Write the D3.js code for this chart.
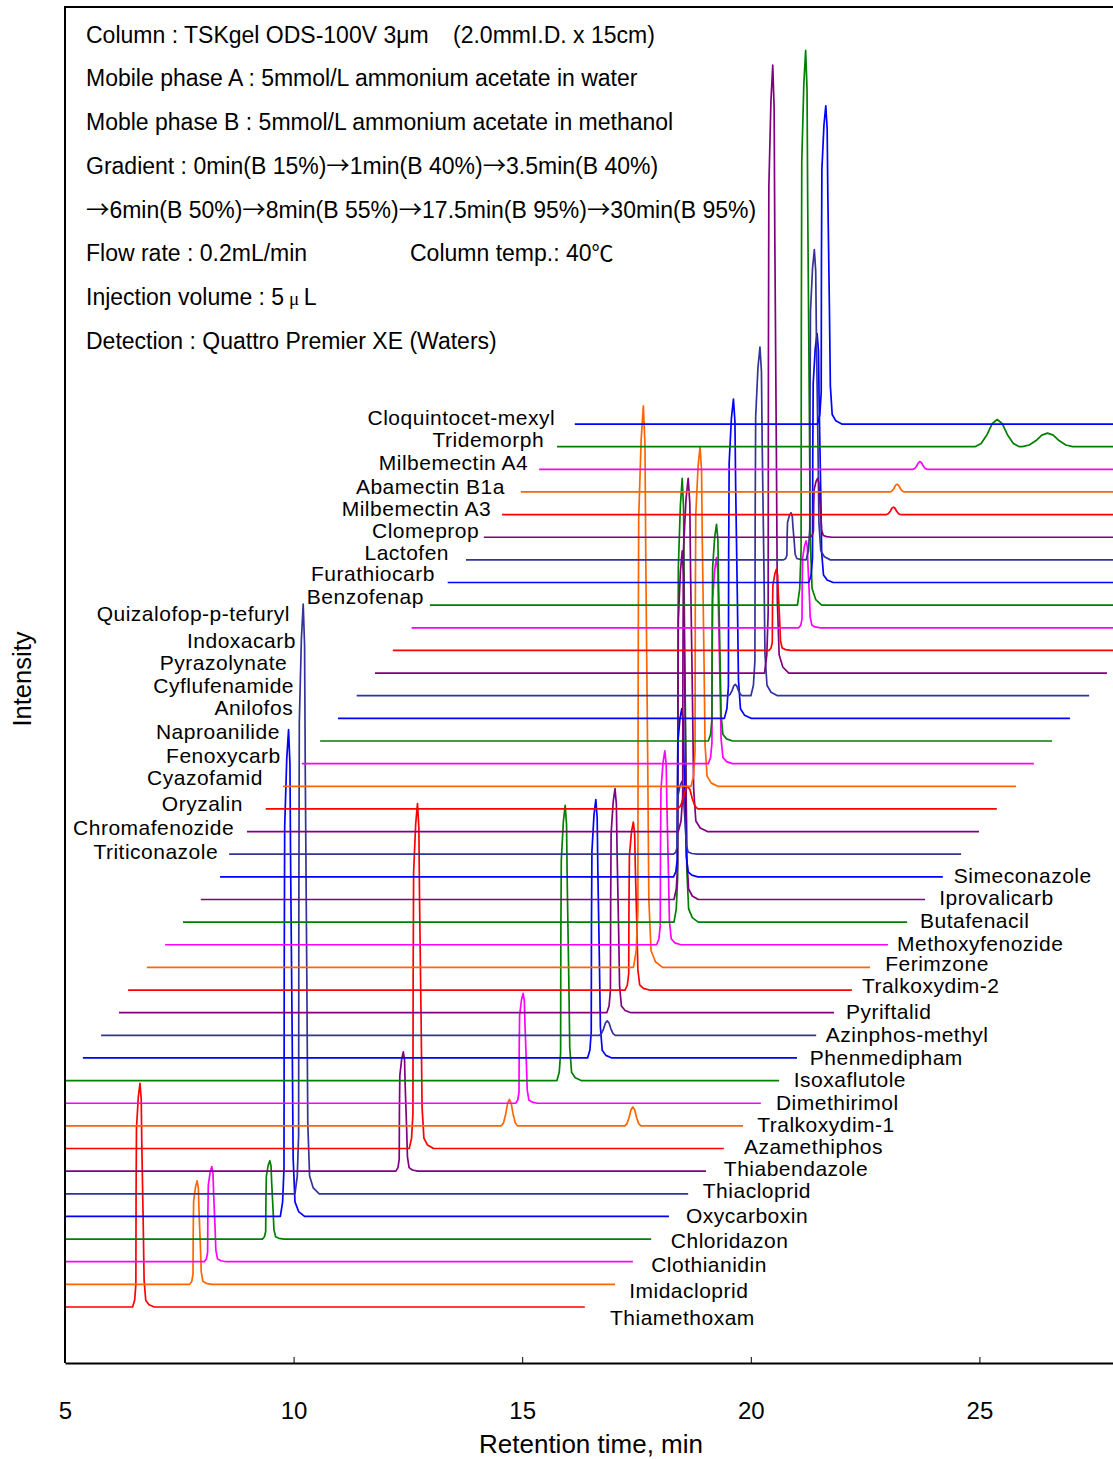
<!DOCTYPE html>
<html><head><meta charset="utf-8">
<script src="https://cdn.jsdelivr.net/npm/d3@7"></script>
<style>
body{margin:0;background:#fff}
svg{display:block}
text{font-family:"Liberation Sans",Arial,sans-serif;fill:#000}
</style></head>
<body><svg id="chart" width="1113" height="1459"></svg>
<script>
// ---------------- data ----------------
const compounds = ["Thiamethoxam","Imidacloprid","Clothianidin","Chloridazon","Oxycarboxin","Thiacloprid","Thiabendazole","Azamethiphos","Tralkoxydim-1","Dimethirimol","Isoxaflutole","Phenmedipham","Azinphos-methyl","Pyriftalid","Tralkoxydim-2","Ferimzone","Methoxyfenozide","Butafenacil","Iprovalicarb","Simeconazole","Triticonazole","Chromafenozide","Oryzalin","Cyazofamid","Fenoxycarb","Naproanilide","Anilofos","Cyflufenamide","Pyrazolynate","Indoxacarb","Quizalofop-p-tefuryl","Benzofenap","Furathiocarb","Lactofen","Clomeprop","Milbemectin A3","Abamectin B1a","Milbemectin A4","Tridemorph","Cloquintocet-mexyl"];
// acquisition window of each (offset) trace, min
const traceStart = [5,5,5,5,5,5,5,5,5,5,5,5.39,5.79,6.18,6.38,6.79,7.19,7.58,7.97,8.39,8.59,8.98,9.39,9.77,10.18,10.58,10.97,11.38,11.78,12.17,12.58,12.98,13.37,13.77,14.16,14.56,14.97,15.37,15.76,16.15];
const traceEnd = [16.37,17.03,17.42,17.82,18.21,18.63,19.02,19.41,19.83,20.22,20.62,21.01,21.43,21.82,22.21,22.61,23.0,23.42,23.81,24.2,24.6,24.99,25.38,25.8,26.19,26.59,26.98,27.4,27.79,28.2,28.6,29.0,29.4,29.8,30,30,30,30,30,30];
// peaks per trace: [retention time (min), height (trace-offset units), half width (min), shape 0=sharp 1=round]
const peaks = [
 [[6.64,9.88,0.09,0]],
 [[7.89,4.57,0.09,0]],
 [[8.21,4.2,0.09,0]],
 [[9.48,3.46,0.09,0]],
 [[9.89,21.5,0.1,0]],
 [[10.21,26.05,0.1,0]],
 [[12.40,5.27,0.09,0]],
 [[12.71,15.24,0.1,0]],
 [[14.72,1.17,0.08,1],[17.42,0.84,0.08,1]],
 [[15.02,4.85,0.09,0]],
 [[15.94,12.16,0.1,0]],
 [[16.61,11.41,0.1,0]],
 [[16.86,0.64,0.08,1]],
 [[17.03,9.9,0.1,0]],
 [[17.43,7.42,0.1,0]],
 [[17.65,24.8,0.12,0]],
 [[18.12,8.56,0.1,0]],
 [[18.50,19.6,0.1,0]],
 [[18.50,15.4,0.1,0]],
 [[18.49,7.43,0.1,0]],
 [[18.49,3.2,0.1,0]],
 [[18.63,15.6,0.12,0]],
 [[18.62,1.0,0.1,1]],
 [[18.89,15.0,0.11,0]],
 [[19.25,9.1,0.1,0]],
 [[19.25,9.57,0.1,0]],
 [[19.62,14.1,0.11,0]],
 [[19.66,0.5,0.07,1],[20.20,15.4,0.11,0]],
 [[20.48,26.85,0.1,0]],
 [[20.56,3.58,0.09,0]],
 [[21.21,3.84,0.09,0]],
 [[21.20,24.5,0.1,0]],
 [[21.45,11.0,0.1,0]],
 [[20.88,2.08,0.09,0],[21.39,13.7,0.1,0]],
 [[21.46,2.6,0.09,0]],
 [[23.12,0.33,0.07,1]],
 [[23.20,0.34,0.07,1]],
 [[23.70,0.34,0.07,1]],
 [[25.39,1.2,0.22,1],[26.49,0.6,0.25,1]],
 [[21.64,14.05,0.1,0]]
];
const xTicks = [5,10,15,20,25];
// label anchors (time, trace level); first 20 left-aligned, rest right-aligned
const labelTime = [16.92,17.34,17.82,18.25,18.58,18.95,19.41,19.85,20.14,20.55,20.94,21.29,21.64,22.08,22.43,22.94,23.20,23.70,24.12,24.44,8.35,8.70,8.89,9.33,9.72,9.70,9.99,10.01,9.86,10.05,9.92,12.85,13.09,13.40,14.06,14.32,14.62,15.13,15.48,15.72];
const labelLevel = [-0.44,0.75,1.90,2.92,4.06,5.17,6.14,7.11,8.08,9.05,10.03,11.04,12.06,13.07,14.22,15.19,16.08,17.09,18.07,19.04,20.14,21.16,22.22,23.37,24.38,25.44,26.50,27.47,28.49,29.46,30.65,31.40,32.38,33.35,34.32,35.25,36.26,37.32,38.30,39.27];
const headerLines = [
 ["Column : TSKgel ODS-100V 3μm", "(2.0mmI.D. x 15cm)"],
 ["Mobile phase A : 5mmol/L ammonium acetate in water"],
 ["Moble phase B : 5mmol/L ammonium acetate in methanol"],
 ["Gradient : 0min(B 15%)→1min(B 40%)→3.5min(B 40%)"],
 ["→6min(B 50%)→8min(B 55%)→17.5min(B 95%)→30min(B 95%)"],
 ["Flow rate : 0.2mL/min", "Column temp.: 40℃"],
 ["Injection volume : 5μL"],
 ["Detection : Quattro Premier XE (Waters)"]
];

// ---------------- styles ----------------
const palette = {red:"#ff0000", orange:"#ff6600", magenta:"#ff00ff", green:"#008000", blue:"#0000ff", slate:"#333399", purple:"#800080"};
const traceColorKeys = ["red","orange","magenta","green","blue","slate","purple","red","orange","magenta","green","blue","slate","purple","red","orange","magenta","green","purple","blue","slate","purple","red","orange","magenta","green","blue","slate","purple","red","magenta","green","blue","slate","purple","red","orange","magenta","green","blue"];
// peak shape templates: [offset in half-widths, fraction of height]
const sharpProfile = [[-1.8,0],[-1.3,0.03],[-1.0,0.1],[-0.95,0.5],[-0.85,0.8],[-0.4,0.94],[0,1],[0.3,0.93],[0.45,0.72],[0.8,0.36],[1.0,0.12],[1.4,0.03],[2.2,0.01],[3.5,0]];
const roundProfile = [[-2.2,0],[-1.6,0.12],[-1,0.45],[-0.5,0.85],[0,1],[0.5,0.85],[1,0.45],[1.6,0.12],[2.2,0]];

// ---------------- layout ----------------
const W = 1113, H = 1459;
const plot = {left:65, top:7, bottom:1363};
const x = d3.scaleLinear().domain([5,30]).range([plot.left, plot.left + 25*45.72]);
const y = d3.scaleLinear().domain([-2.4735, 57.42]).range([plot.bottom, plot.top]);

const svg = d3.select("#chart");

svg.append("defs").append("clipPath").attr("id","clip")
  .append("rect").attr("x",plot.left).attr("y",0).attr("width",W).attr("height",plot.bottom);

function interp(prof, u){
  if (u <= prof[0][0] || u >= prof[prof.length-1][0]) return 0;
  for (let k=1;k<prof.length;k++){
    if (u <= prof[k][0]){
      const a = prof[k-1], b = prof[k];
      return a[1] + (b[1]-a[1])*(u-a[0])/(b[0]-a[0]);
    }
  }
  return 0;
}

const line = d3.line().x(d=>x(d[0])).y(d=>y(d[1]));
const gTraces = svg.append("g").attr("clip-path","url(#clip)");

compounds.forEach((name,i)=>{
  const s = traceStart[i], e = traceEnd[i];
  const pk = peaks[i];
  let xs = [s,e];
  pk.forEach(p=>{
    const prof = p[3]===1 ? roundProfile : sharpProfile;
    prof.forEach(q=>{ xs.push(p[0]+q[0]*p[2]); });
  });
  xs = Array.from(new Set(xs.filter(v=>v>=s && v<=e))).sort((a,b)=>a-b);
  const pts = xs.map(t=>{
    let v = 0;
    pk.forEach(p=>{
      const prof = p[3]===1 ? roundProfile : sharpProfile;
      v += p[1]*interp(prof,(t-p[0])/p[2]);
    });
    return [t, i + v];
  });
  gTraces.append("path").attr("d", line(pts))
    .attr("fill","none").attr("stroke", palette[traceColorKeys[i]])
    .attr("stroke-width",1.7).attr("stroke-linejoin","round");
});

// labels
const gLab = svg.append("g").attr("font-size","21px");
compounds.forEach((name,i)=>{
  gLab.append("text")
    .attr("x", x(labelTime[i])).attr("y", y(labelLevel[i]))
    .attr("dy","0.36em")
    .attr("text-anchor", i<20 ? "start" : "end")
    .attr("letter-spacing","0.5px")
    .text(name);
});

// frame
svg.append("path")
  .attr("d", `M${x(30)},${plot.top}H${plot.left}V${plot.bottom}`)
  .attr("fill","none").attr("stroke","#000").attr("stroke-width",2);

// x axis
const gx = svg.append("g").attr("transform",`translate(0,${plot.bottom})`)
  .call(d3.axisBottom(x).tickValues(xTicks).tickSize(-6).tickSizeOuter(0).tickPadding(39).tickFormat(d3.format("d")));
gx.select(".domain").attr("stroke","#000").attr("stroke-width",2);
gx.selectAll(".tick line").attr("stroke","#000").attr("stroke-width",1);
gx.selectAll(".tick text").attr("font-size","24px").attr("font-family","Liberation Sans, Arial, sans-serif").attr("fill","#000");

svg.append("text").attr("x",591).attr("y",1453).attr("text-anchor","middle")
  .attr("font-size","26px").text("Retention time, min");
svg.append("text").attr("transform","translate(31,679) rotate(-90)").attr("text-anchor","middle")
  .attr("font-size","25.5px").text("Intensity");

// header (arrows, ℃ in a CJK face; μ in a serif face)
const hdrY = [43,86,130,174,218,261,305,349];
const gH = svg.append("g").attr("font-size","23px");
function richText(txt, xPos, yPos){
  const t = gH.append("text").attr("x",xPos).attr("y",yPos);
  const parts = txt.split(/(→|℃|μL)/);
  parts.forEach(p=>{
    if (p === "") return;
    if (p === "→" || p === "℃") {
      t.append("tspan").attr("font-family","Noto Sans CJK JP, sans-serif").attr("font-size", p==="→" ? "23.4px" : "22px").text(p);
    } else if (p === "μL") {
      t.append("tspan").attr("font-family","Liberation Serif, serif").attr("font-size","19px").text(" μ ");
      t.append("tspan").text("L");
    } else {
      t.append("tspan").text(p);
    }
  });
}
headerLines.forEach((ln,k)=> richText(ln[0], 86, hdrY[k]));
richText(headerLines[0][1], 453, hdrY[0]);
richText(headerLines[5][1], 410, hdrY[5]);
</script></body></html>
